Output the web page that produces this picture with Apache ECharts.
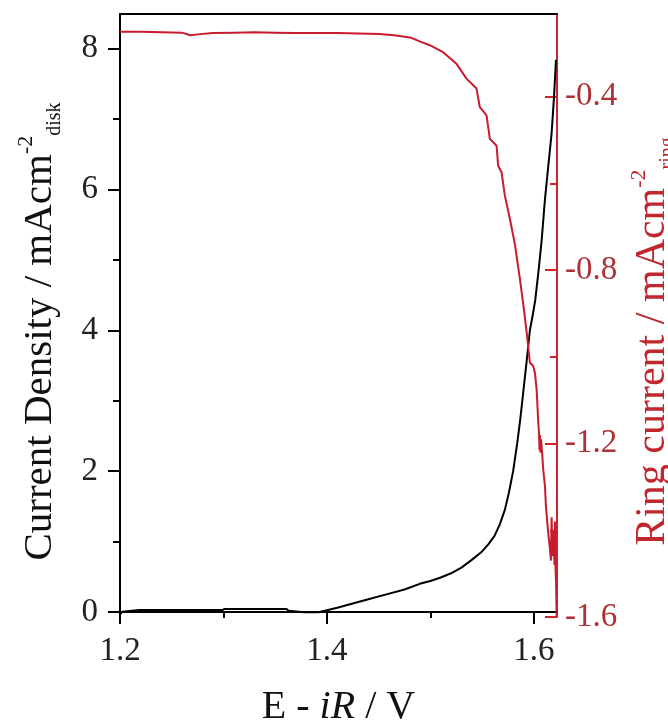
<!DOCTYPE html>
<html><head><meta charset="utf-8">
<script src="https://cdn.jsdelivr.net/npm/echarts@6/dist/echarts.min.js"></script>
<style>html,body{margin:0;padding:0;background:#fff}#c{width:668px;height:722px}</style>
</head><body><div id="c"></div><script>
// Disk current density (mA cm^-2 disk) vs E - iR (V)
const diskE = [1.2000,1.2020,1.2187,1.2600,1.2990,1.3010,1.3300,1.3610,1.3630,1.3780,1.3920,1.4100,1.4250,1.4400,1.4575,1.4750,1.4897,1.5000,1.5100,1.5200,1.5300,1.5400,1.5500,1.5560,1.5620,1.5670,1.5720,1.5760,1.5800,1.5840,1.5870,1.5900,1.5930,1.5962,1.5990,1.6014,1.6047,1.6076,1.6107,1.6139,1.6172,1.6195,1.6214];
const diskJ = [-0.04,0.004,0.028,0.028,0.028,0.043,0.043,0.043,0.018,-0.004,-0.004,0.06,0.12,0.18,0.25,0.32,0.40,0.44,0.49,0.55,0.63,0.74,0.86,0.96,1.08,1.24,1.45,1.70,2.00,2.40,2.75,3.15,3.55,4.00,4.22,4.43,4.86,5.28,5.85,6.32,6.80,7.31,7.84];
// Ring current (mA cm^-2) vs E - iR (V)
const ringE = [1.2000,1.2200,1.2400,1.2600,1.2680,1.2750,1.2900,1.3100,1.3300,1.3500,1.3700,1.3900,1.4100,1.4300,1.4510,1.4650,1.4817,1.4897,1.4994,1.5123,1.5253,1.5349,1.5446,1.5478,1.5543,1.5575,1.5640,1.5655,1.5688,1.5720,1.5769,1.5817,1.5866,1.5904,1.5933,1.5962,1.5994,1.6011,1.6027,1.6043,1.6050,1.6055,1.6059,1.6065,1.6070,1.6080,1.6091,1.6108,1.6117,1.6139,1.6155,1.6165,1.6172,1.6180,1.6190,1.6200,1.6204,1.6210,1.6215,1.6221];
const ringI = [-0.250,-0.250,-0.251,-0.252,-0.258,-0.256,-0.253,-0.252,-0.251,-0.252,-0.253,-0.253,-0.253,-0.254,-0.255,-0.258,-0.264,-0.272,-0.281,-0.297,-0.324,-0.358,-0.381,-0.424,-0.443,-0.497,-0.513,-0.559,-0.574,-0.628,-0.682,-0.740,-0.821,-0.890,-0.948,-1.013,-1.021,-1.037,-1.075,-1.151,-1.175,-1.215,-1.180,-1.221,-1.190,-1.221,-1.260,-1.299,-1.345,-1.406,-1.440,-1.470,-1.370,-1.460,-1.400,-1.480,-1.380,-1.490,-1.520,-1.600];
// Tick values
const xMajorTicks = [1.2, 1.4, 1.6];
const xMinorTicks = [1.3, 1.5];
const leftMajorTicks = [0, 2, 4, 6, 8];
const leftMinorTicks = [1, 3, 5, 7];
const rightMajorTicks = [-1.6, -1.2, -0.8, -0.4];
const rightMinorTicks = [-1.4, -1.0, -0.6];

const X_MIN = 1.2, X_MAX = 1.6224;
const L_MIN = -0.071, L_MAX = 8.49;
const R_MIN = -1.6, R_MAX = -0.209;

const FONT = 'Liberation Serif';
const BLACK = '#000';
const RED_AXIS = '#d0242c';
const RED_LINE = '#c81b2b';
const RED_LABEL = '#ad3236';
const RED_TITLE = '#c0282e';

const chart = echarts.init(document.getElementById('c'), null, {renderer: 'canvas'});

const hidden = {show: false};
function baseX(extra) {
  return Object.assign({type: 'value', min: X_MIN, max: X_MAX, splitLine: hidden, minorTick: hidden, minorSplitLine: hidden}, extra);
}
function baseY(min, max, extra) {
  return Object.assign({type: 'value', min: min, max: max, splitLine: hidden, minorTick: hidden, minorSplitLine: hidden}, extra);
}

const option = {
  animation: false,
  backgroundColor: '#fff',
  grid: {left: 120, right: 111, top: 14, bottom: 105, containLabel: false, outerBoundsMode: 'none'},
  xAxis: [
    baseX({
      position: 'bottom',
      axisLine: {show: true, lineStyle: {color: BLACK, width: 2}},
      axisTick: {show: true, customValues: xMajorTicks, length: 12, inside: false, lineStyle: {color: BLACK, width: 2}},
      axisLabel: {show: true, customValues: xMajorTicks, margin: 18, fontFamily: FONT, fontSize: 33, color: '#222',
        formatter: v => v.toFixed(1)},
      name: '{n|E - }{i|iR}{n| / V}',
      nameLocation: 'middle',
      nameGap: 70,
      nameTextStyle: {fontFamily: FONT, fontSize: 40, color: '#111',
        rich: {n: {fontFamily: FONT, fontSize: 40, color: '#111'}, i: {fontFamily: FONT, fontSize: 40, fontStyle: 'italic', color: '#111'}}}
    }),
    baseX({
      position: 'bottom',
      axisLine: hidden,
      axisTick: {show: true, customValues: xMinorTicks, length: 6, inside: false, lineStyle: {color: BLACK, width: 2}},
      axisLabel: hidden
    }),
    baseX({
      position: 'top',
      axisLine: {show: true, lineStyle: {color: BLACK, width: 2}},
      axisTick: hidden,
      axisLabel: hidden
    })
  ],
  yAxis: [
    baseY(L_MIN, L_MAX, {
      position: 'left',
      axisLine: {show: true, lineStyle: {color: BLACK, width: 2}},
      axisTick: {show: true, customValues: leftMajorTicks, length: 12, inside: false, lineStyle: {color: BLACK, width: 2}},
      axisLabel: {show: true, customValues: leftMajorTicks, margin: 22, fontFamily: FONT, fontSize: 33, color: '#222'},
      name: '{m|Current Density / mAcm}{sup|-2}{sub|disk}',
      nameLocation: 'middle',
      nameRotate: 90,
      nameGap: 55,
      nameTextStyle: {
        fontFamily: FONT, fontSize: 41, color: '#111', padding: [0, 32, 0, 0],
        rich: {
          m: {fontFamily: FONT, fontSize: 41, lineHeight: 50, color: '#111'},
          sup: {fontFamily: FONT, fontSize: 22, verticalAlign: 'top', color: '#111'},
          sub: {fontFamily: FONT, fontSize: 20, verticalAlign: 'bottom', color: '#111'}
        }
      }
    }),
    baseY(L_MIN, L_MAX, {
      position: 'left',
      axisLine: hidden,
      axisTick: {show: true, customValues: leftMinorTicks, length: 7, inside: false, lineStyle: {color: BLACK, width: 2}},
      axisLabel: hidden
    }),
    baseY(R_MIN, R_MAX, {
      position: 'right',
      axisLine: {show: true, lineStyle: {color: RED_AXIS, width: 2}},
      axisTick: {show: true, customValues: rightMajorTicks, length: 12, inside: true, lineStyle: {color: RED_AXIS, width: 2}},
      axisLabel: {show: true, customValues: rightMajorTicks, margin: 8, fontFamily: FONT, fontSize: 33, color: RED_LABEL,
        formatter: v => v.toFixed(1)},
      name: '{m|Ring current / mAcm}{sup|-2}{sub|ring}',
      nameLocation: 'middle',
      nameRotate: 90,
      nameGap: 68,
      nameTextStyle: {
        fontFamily: FONT, fontSize: 42, color: RED_TITLE, padding: [0, 52, 0, 0],
        rich: {
          m: {fontFamily: FONT, fontSize: 42, lineHeight: 50, color: RED_TITLE},
          sup: {fontFamily: FONT, fontSize: 22, verticalAlign: 'top', color: RED_TITLE},
          sub: {fontFamily: FONT, fontSize: 20, verticalAlign: 'bottom', color: RED_TITLE}
        }
      }
    }),
    baseY(R_MIN, R_MAX, {
      position: 'right',
      axisLine: hidden,
      axisTick: {show: true, customValues: rightMinorTicks, length: 7, inside: true, lineStyle: {color: RED_AXIS, width: 2}},
      axisLabel: hidden
    })
  ],
  series: [
    {
      name: 'Disk',
      type: 'line',
      xAxisIndex: 0,
      yAxisIndex: 0,
      data: diskE.map((e, i) => [e, diskJ[i]]),
      showSymbol: false,
      symbol: 'none',
      lineStyle: {color: '#000', width: 2},
      z: 3
    },
    {
      name: 'Ring',
      type: 'line',
      xAxisIndex: 0,
      yAxisIndex: 2,
      data: ringE.map((e, i) => [e, ringI[i]]),
      showSymbol: false,
      symbol: 'none',
      lineStyle: {color: RED_LINE, width: 2},
      z: 4
    }
  ]
};
chart.setOption(option);
</script></body></html>
